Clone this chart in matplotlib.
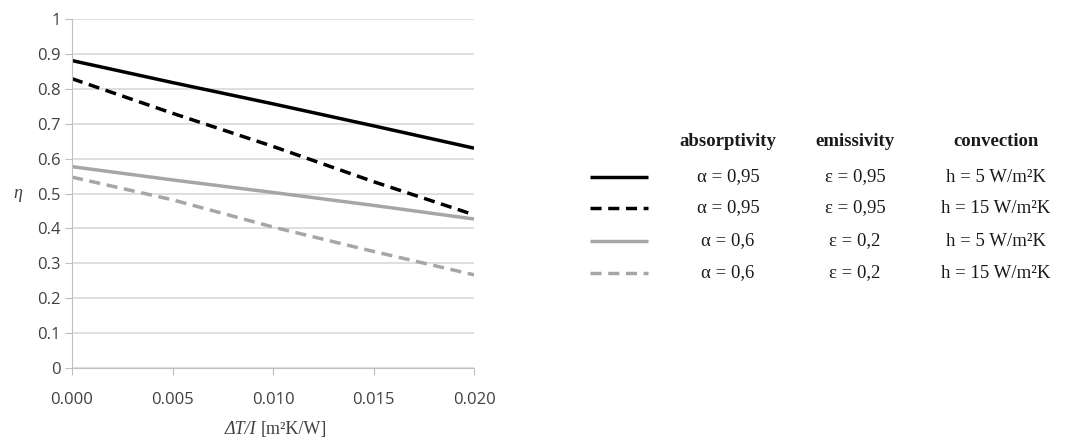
import matplotlib
matplotlib.use("Agg")
import matplotlib.pyplot as plt
from matplotlib.lines import Line2D

# data
x = [0.000, 0.005, 0.010, 0.015, 0.020]
eta_a95_h5 = [0.881, 0.818, 0.757, 0.694, 0.630]
eta_a95_h15 = [0.829, 0.730, 0.635, 0.534, 0.439]
eta_a06_h5 = [0.577, 0.539, 0.503, 0.466, 0.427]
eta_a06_h15 = [0.547, 0.482, 0.404, 0.334, 0.267]

absorptivity = ["α = 0,95", "α = 0,95", "α = 0,6", "α = 0,6"]
emissivity = ["ε = 0,95", "ε = 0,95", "ε = 0,2", "ε = 0,2"]
convection = ["h = 5 W/m²K", "h = 15 W/m²K", "h = 5 W/m²K", "h = 15 W/m²K"]

xticks = [0.000, 0.005, 0.010, 0.015, 0.020]
yticks = [0, 0.1, 0.2, 0.3, 0.4, 0.5, 0.6, 0.7, 0.8, 0.9, 1]

black = "#000000"
gray = "#a6a6a6"
styles = [
    dict(color=black, lw=2.5, ls="-"),
    dict(color=black, lw=2.5, ls=(0, (3.2, 1.9))),
    dict(color=gray, lw=2.5, ls="-"),
    dict(color=gray, lw=2.5, ls=(0, (3.2, 1.9))),
]
series = [eta_a95_h5, eta_a95_h15, eta_a06_h5, eta_a06_h15]

fig = plt.figure(figsize=(10.65, 4.43), dpi=100)
ax = fig.add_axes([0.0676, 0.1693, 0.3775, 0.7877])

for ys, st in zip(series, styles):
    ax.plot(x, ys, solid_capstyle="butt", dash_capstyle="butt", **st)

ax.set_xlim(0, 0.020)
ax.set_ylim(0, 1)
ax.set_xticks(xticks)
ax.set_xticklabels([f"{v:.3f}" for v in xticks])
ax.set_yticks(yticks)
ax.set_yticklabels(["0", "0.1", "0.2", "0.3", "0.4", "0.5", "0.6", "0.7", "0.8", "0.9", "1"])
ax.grid(axis="y", color="#d9d9d9", lw=1.2)
ax.set_axisbelow(True)
for side in ["top", "right"]:
    ax.spines[side].set_visible(False)
for side in ["left", "bottom"]:
    ax.spines[side].set_color("#bfbfbf")
ax.tick_params(axis="x", colors="#bfbfbf", length=5, labelcolor="#404040",
               labelsize=12, pad=12)
ax.tick_params(axis="y", colors="#bfbfbf", length=5, labelcolor="#404040",
               labelsize=12, pad=3)
for lab in ax.get_xticklabels() + ax.get_yticklabels():
    lab.set_family("Open Sans")

ax.set_ylabel("η", family="Liberation Serif", style="italic", fontsize=13,
              rotation=0, labelpad=14, color="#404040", va="center")

# x label: italic quantity + upright unit
ax.text(0.458, -0.175, "ΔT/I", transform=ax.transAxes, ha="right", va="center",
        family="Liberation Serif", style="italic", fontsize=13, color="#404040")
ax.text(0.468, -0.175, "[m²K/W]", transform=ax.transAxes, ha="left", va="center",
        family="Liberation Serif", fontsize=13, color="#404040")

# legend table
lg = fig.add_axes([0.0, 0.0, 1.0, 1.0])
lg.set_xlim(0, 1065)
lg.set_ylim(443, 0)
lg.axis("off")
serif = dict(family="Liberation Serif", fontsize=13.5, ha="center", va="center",
             color="#1a1a1a")
lg.text(728, 142, "absorptivity", weight="bold", **serif)
lg.text(855, 142, "emissivity", weight="bold", **serif)
lg.text(996, 142, "convection", weight="bold", **serif)
rows = [177, 208, 241, 273]
for i, st in enumerate(styles):
    lg.add_line(Line2D([590, 648], [rows[i], rows[i]], solid_capstyle="butt",
                       dash_capstyle="butt", **st))
    lg.text(728, rows[i], absorptivity[i], **serif)
    lg.text(855, rows[i], emissivity[i], **serif)
    lg.text(996, rows[i], convection[i], **serif)

fig.savefig("out.png", dpi=100)
